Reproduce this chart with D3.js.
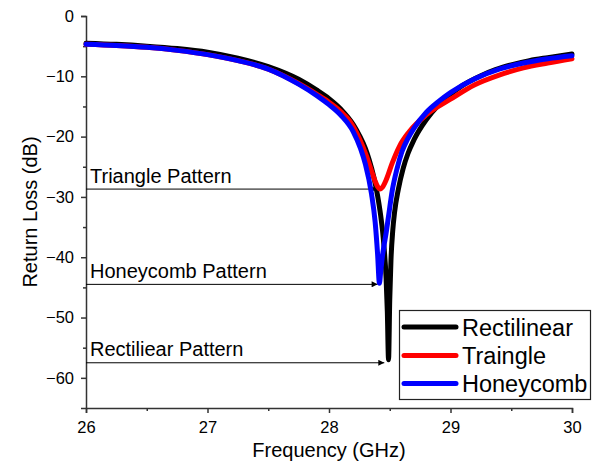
<!DOCTYPE html>
<html>
<head>
<meta charset="utf-8">
<script src="https://cdn.jsdelivr.net/npm/d3@7"></script>
<style>
  html, body { margin: 0; padding: 0; background: #fff; }
  svg { display: block; font-family: "Liberation Sans", Arial, sans-serif; }
</style>
</head>
<body>
<svg id="chart" width="597" height="465"></svg>
<script>
// ---------- data ----------
const rectFreq = [26.0, 26.25, 26.5, 26.75, 27.0, 27.25, 27.5, 27.75, 27.9, 28.0, 28.1, 28.2, 28.25, 28.3, 28.33, 28.37, 28.40, 28.42, 28.44, 28.455, 28.47, 28.48, 28.49,
                  28.50, 28.51, 28.525, 28.54, 28.57, 28.61, 28.65, 28.7, 28.8, 28.9, 29.0, 29.1, 29.25, 29.37, 29.5, 29.65, 29.8, 30.0];
const rectRL   = [-4.5, -4.7, -5.0, -5.4, -6.0, -7.0, -8.4, -10.5, -12.3, -13.7, -15.5, -18.0, -19.8, -22.0, -23.8, -26.8, -29.8, -32.3, -35.5, -38.8, -43.5, -49.0, -57.0,
                  -47.0, -40.5, -35.5, -32.5, -28.8, -25.3, -22.8, -20.5, -17.2, -14.8, -13.0, -11.5, -9.9, -8.9, -8.1, -7.4, -6.9, -6.3];

const triFreq = [26.0, 26.25, 26.5, 26.75, 27.0, 27.25, 27.5, 27.75, 27.9, 28.0, 28.1, 28.17, 28.25, 28.31, 28.35, 28.38, 28.40, 28.42, 28.44, 28.47, 28.52, 28.58, 28.66, 28.8, 29.0, 29.2, 29.4, 29.6, 29.8, 30.0];
const triRL   = [-4.7, -4.9, -5.2, -5.7, -6.4, -7.4, -8.8, -11.2, -13.0, -14.3, -15.9, -17.4, -20.3, -23.3, -25.7, -27.4, -28.3, -28.7, -28.4, -27.2, -24.4, -21.6, -19.2, -16.4, -13.8, -11.4, -9.8, -8.6, -7.8, -7.1];

const honeyFreq = [26.0, 26.25, 26.5, 26.75, 27.0, 27.25, 27.5, 27.75, 27.9, 28.0, 28.1, 28.2, 28.26, 28.3, 28.35, 28.38, 28.40, 28.415,
                   28.425, 28.44, 28.455, 28.47, 28.49, 28.52, 28.56, 28.6, 28.65, 28.7, 28.8, 28.9, 29.0, 29.2, 29.4, 29.6, 29.8, 30.0];
const honeyRL   = [-4.7, -4.9, -5.2, -5.7, -6.4, -7.4, -8.8, -11.3, -13.2, -14.7, -16.5, -19.2, -22.0, -24.6, -29.5, -34.2, -39.5, -44.3,
                   -42.5, -39.8, -37.8, -36.0, -33.2, -29.0, -25.3, -22.5, -20.3, -18.6, -16.0, -14.2, -12.7, -10.4, -8.8, -7.8, -7.1, -6.6];

const seriesNames  = ["Rectilinear", "Traingle", "Honeycomb"];
const seriesColors = ["#000000", "#ff0000", "#0000ff"];

const xTicks = [26, 27, 28, 29, 30];
const yTicks = [0, -10, -20, -30, -40, -50, -60];

const annLabels = ["Triangle Pattern", "Honeycomb Pattern", "Rectiliear Pattern"];
const annLevel  = [-28.7, -44.5, -57.5];   // dB level of arrow
const annTipF   = [28.395, 28.40, 28.455]; // frequency where arrow ends

// ---------- layout ----------
const svg = d3.select("#chart");
const x = d3.scaleLinear().domain([26, 30]).range([86, 572]);
const y = d3.scaleLinear().domain([-65, 0]).range([408, 16]);

const axisColor = "#333";

// minor ticks
const xMinor = d3.range(26.5, 30, 1);
const yMinor = d3.range(-5, -65, -10);

const gx = svg.append("g").attr("transform", `translate(0,${y(-65)})`);
gx.call(d3.axisBottom(x).tickValues(xTicks).tickFormat(d3.format("d")).tickSizeOuter(0).tickSize(5).tickPadding(8));
gx.append("g").call(d3.axisBottom(x).tickValues(xMinor).tickFormat("").tickSize(3).tickSizeOuter(0))
  .select(".domain").remove();

const gy = svg.append("g").attr("transform", `translate(${x(26)},0)`);
gy.call(d3.axisLeft(y).tickValues(yTicks).tickFormat(d3.format("d")).tickSizeOuter(0).tickSize(5).tickPadding(7));
gy.append("g").call(d3.axisLeft(y).tickValues(yMinor).tickFormat("").tickSize(3).tickSizeOuter(0))
  .select(".domain").remove();

svg.selectAll(".domain").attr("stroke", axisColor).attr("stroke-width", 1.5);
svg.selectAll(".tick line").attr("stroke", axisColor).attr("stroke-width", 1.5);
svg.selectAll(".tick text").attr("font-size", 16.5).attr("fill", "#000")
   .attr("font-family", '"Liberation Sans", Arial, sans-serif');

// axis titles
svg.append("text").attr("x", (x(26) + x(30)) / 2).attr("y", 457)
  .attr("text-anchor", "middle").attr("font-size", 20).text("Frequency (GHz)");
svg.append("text")
  .attr("transform", `translate(37,${(y(0) + y(-65)) / 2}) rotate(-90)`)
  .attr("text-anchor", "middle").attr("font-size", 20).text("Return Loss (dB)");

// curves
const seriesData = [
  rectFreq.map((f, i) => [f, rectRL[i]]),
  triFreq.map((f, i) => [f, triRL[i]]),
  honeyFreq.map((f, i) => [f, honeyRL[i]])
];
const line = d3.line().x(d => x(d[0])).y(d => y(d[1])).curve(d3.curveMonotoneX);

// annotations (arrows + labels)
const defs = svg.append("defs");
defs.append("marker").attr("id", "arrow").attr("viewBox", "0 0 10 10")
  .attr("refX", 10).attr("refY", 5).attr("markerWidth", 9).attr("markerHeight", 6)
  .attr("markerUnits", "userSpaceOnUse").attr("orient", "auto")
  .append("path").attr("d", "M0,0 L10,5 L0,10 Z").attr("fill", "#000");

annLabels.forEach((lab, i) => {
  svg.append("line")
    .attr("x1", x(26)).attr("x2", x(annTipF[i]))
    .attr("y1", y(annLevel[i])).attr("y2", y(annLevel[i]))
    .attr("stroke", "#000").attr("stroke-width", 1)
    .attr("marker-end", "url(#arrow)");
  svg.append("text").attr("x", 90).attr("y", y(annLevel[i]) - 6.5)
    .attr("font-size", 20).text(lab);
});

seriesData.forEach((d, i) => {
  svg.append("path").datum(d).attr("d", line)
    .attr("fill", "none").attr("stroke", seriesColors[i]).attr("stroke-width", 5)
    .attr("stroke-linejoin", "round").attr("stroke-linecap", "round");
});

// legend
const lg = svg.append("g");
lg.append("rect").attr("x", 399.5).attr("y", 310.5).attr("width", 191).attr("height", 89)
  .attr("fill", "#fff").attr("stroke", "#222").attr("stroke-width", 1.2);
const legY = [327, 355.5, 383.5];
seriesNames.forEach((n, i) => {
  lg.append("line").attr("x1", 404).attr("x2", 456).attr("y1", legY[i]).attr("y2", legY[i])
    .attr("stroke", seriesColors[i]).attr("stroke-width", 5).attr("stroke-linecap", "round");
  lg.append("text").attr("x", 462).attr("y", legY[i] + 8.5).attr("font-size", 23.5).text(n);
});
</script>
</body>
</html>
